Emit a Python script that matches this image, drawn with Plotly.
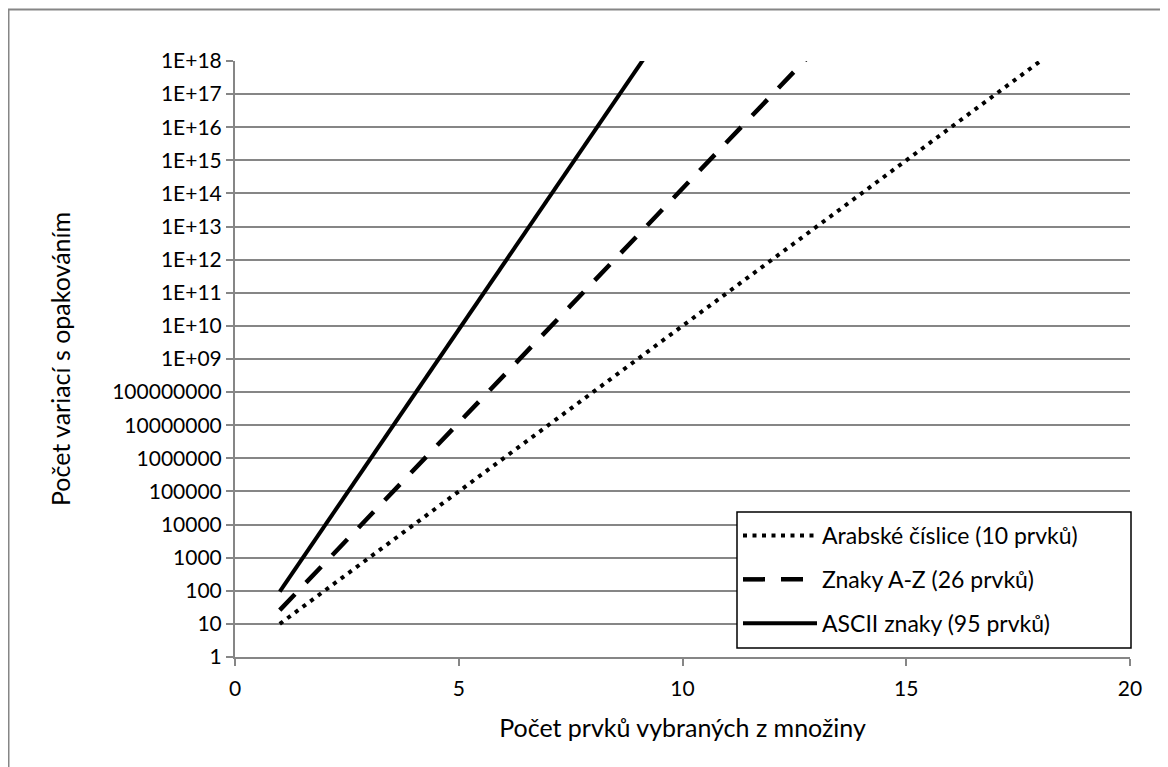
import plotly.graph_objects as go

# Data
n_digits = list(range(1, 19))
v_digits = [10.0**n for n in n_digits]
n_alpha = list(range(1, 14))
v_alpha = [26.0**n for n in n_alpha]
n_ascii = list(range(1, 11))
v_ascii = [95.0**n for n in n_ascii]

names = ["Arabské číslice (10 prvků)", "Znaky A-Z (26 prvků)", "ASCII znaky (95 prvků)"]
exps = list(range(0, 19))
tick_vals = [10.0**k for k in exps]
tick_text = [str(10**k) if k <= 8 else "1E+%02d" % k for k in exps]
x_ticks = [0, 5, 10, 15, 20]

FONT = "Lato"
GRAY = "#868686"
FS = 21

fig = go.Figure()
fig.add_trace(go.Scatter(x=n_digits, y=v_digits, mode="lines", name=names[0], legendgroup="a",
                         line=dict(color="black", width=4, dash="4px,5.5px")))
fig.add_trace(go.Scatter(x=n_alpha, y=v_alpha, mode="lines", name=names[1], legendgroup="b",
                         line=dict(color="black", width=4.5, dash="22px,16px")))
fig.add_trace(go.Scatter(x=n_ascii, y=v_ascii, mode="lines", name=names[2], legendgroup="c",
                         line=dict(color="black", width=4)))

# page has an 8px body margin: figure origin sits at (8, 8) in the window
OFF = 8
W, H = 1168 - OFF, 767 - OFF
L, R, T, B = 235 - OFF, 1168 - 1130, 61 - OFF, 767 - 657
pw, ph = W - L - R, H - T - B

def px_x(x):
    return (x - OFF - L) / pw

def px_y(y):
    return (H - B - (y - OFF)) / ph

# outer chart frame
fig.add_shape(type="rect", xref="paper", yref="paper",
              x0=px_x(8.5), x1=px_x(1250), y0=px_y(850), y1=px_y(9.5),
              line=dict(color=GRAY, width=2), fillcolor="rgba(0,0,0,0)", layer="below")
# legend frame (wider than plotly's auto-sized legend box)
fig.add_shape(type="rect", xref="paper", yref="paper",
              x0=px_x(737), x1=px_x(1131), y0=px_y(648), y1=px_y(512),
              line=dict(color="black", width=1.5), fillcolor="white", layer="above")

fig.update_layout(
    width=W, height=H,
    margin=dict(l=L, r=R, t=T, b=B),
    plot_bgcolor="white", paper_bgcolor="white",
    font=dict(family=FONT, size=FS, color="black"),
    showlegend=True,
    legend=dict(x=px_x(738), y=px_y(514), xanchor="left", yanchor="top",
                bgcolor="rgba(0,0,0,0)", borderwidth=0,
                font=dict(family=FONT, size=23), tracegroupgap=11,
                traceorder="grouped", itemwidth=74),
    xaxis=dict(range=[0, 20], tickvals=x_ticks, showgrid=False, zeroline=False,
               showline=True, linecolor=GRAY, linewidth=2,
               ticks="outside", ticklen=7, tickcolor=GRAY, tickwidth=2,
               ticklabelstandoff=5,
               title=dict(text="Počet prvků vybraných z množiny", standoff=20),
               tickfont=dict(size=FS)),
    yaxis=dict(type="log", range=[0, 18], tickvals=tick_vals, ticktext=tick_text,
               showgrid=True, gridcolor=GRAY, gridwidth=1.5, zeroline=False,
               showline=True, linecolor=GRAY, linewidth=2,
               ticks="outside", ticklen=7, tickcolor=GRAY, tickwidth=2,
               title=dict(text="Počet variací s opakováním", standoff=34),
               tickfont=dict(size=FS)),
)

fig.write_html("out.html")
